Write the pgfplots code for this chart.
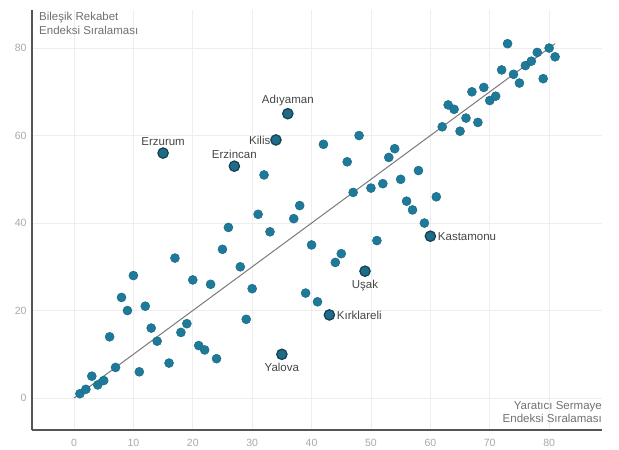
\documentclass[border=0pt]{standalone}
\usepackage{pgfplots}
\usepackage{pgfplotstable}
\pgfplotsset{compat=1.18}
\usepackage{fontspec}
\setmainfont{Liberation Sans}
\definecolor{dot}{HTML}{1E7A98}
\definecolor{dotedge}{HTML}{1A6C88}
\definecolor{dotdark}{HTML}{1D6C88}
\definecolor{dotdarkedge}{HTML}{173F50}
\definecolor{axisgray}{HTML}{555555}
\definecolor{gridgray}{HTML}{EEEEEE}
\definecolor{tickgray}{HTML}{A8A8A8}
\definecolor{titlegray}{HTML}{707070}
\definecolor{labelgray}{HTML}{454545}
\definecolor{linegray}{HTML}{7A7A7A}

\pgfplotstableread{
x y
1 1
2 2
3 5
4 3
5 4
6 14
7 7
8 23
9 20
10 28
11 6
12 21
13 16
14 13
16 8
17 32
18 15
19 17
20 27
21 12
22 11
23 26
24 9
25 34
26 39
28 30
29 18
30 25
31 42
32 51
33 38
37 41
38 44
39 24
40 35
41 22
42 58
44 31
45 33
46 54
47 47
48 60
50 48
51 36
52 49
53 55
54 57
55 50
56 45
57 43
58 52
59 40
61 46
62 62
63 67
64 66
65 61
66 64
67 70
68 63
69 71
70 68
71 69
72 75
73 81
74 74
75 72
76 76
77 77
78 79
79 73
80 80
81 78
}\others

\begin{document}
\begin{tikzpicture}
\begin{axis}[
  scale only axis, width=570pt, height=420pt,
  xmin=-7.07, xmax=88.9, ymin=-7.3, ymax=88.7,
  axis x line=bottom, axis y line=left,
  axis line style={-, draw=axisgray, line width=1.5pt},
  xtick={0,10,...,80}, ytick={0,20,...,80},
  major tick length=0pt,
  grid=major, grid style={draw=gridgray, line width=0.8pt},
  tick label style={font=\fontsize{10.5}{12}\selectfont, text=tickgray},
  /pgf/number format/assume math mode=true,
  xticklabel style={yshift=-6pt},
  yticklabel style={xshift=-2pt},
  clip=false,
  labeled/.style={only marks, mark=*, mark size=5.2pt,
    mark options={fill=dotdark, draw=dotdarkedge, line width=1.2pt},
    point meta=explicit symbolic, nodes near coords,
    every node near coord/.append style={inner sep=1pt,
      font=\fontsize{11.5}{13}\selectfont, text=labelgray}},
]
\coordinate (sw) at (rel axis cs:0,0);
\coordinate (ne) at (rel axis cs:1,1);
\addplot[linegray, line width=1pt] coordinates {(0,0) (81,81)};
\addplot[only marks, mark=*, mark size=4.5pt,
  mark options={fill=dot, draw=dotedge, line width=0.5pt}]
  table[x=x, y=y] {\others};
\addplot[labeled, every node near coord/.append style={anchor=south, yshift=6pt}]
  coordinates {(36,65) [Adıyaman] (15,56) [Erzurum] (27,53) [Erzincan]};
\addplot[labeled, every node near coord/.append style={anchor=east, xshift=-4pt}]
  coordinates {(34,59) [Kilis]};
\addplot[labeled, every node near coord/.append style={anchor=west, xshift=6pt}]
  coordinates {(60,37) [Kastamonu] (43,19) [Kırklareli]};
\addplot[labeled, every node near coord/.append style={anchor=north, yshift=-7pt}]
  coordinates {(49,29) [Uşak] (35,10) [Yalova]};
\node[anchor=north west, align=left, inner sep=0pt, font=\fontsize{11.5}{13.5}\selectfont, text=titlegray]
  at (rel axis cs:0,1) [xshift=7pt, yshift=-2pt] {Bileşik Rekabet\\Endeksi Sıralaması};
\node[anchor=south east, align=right, inner sep=0pt, font=\fontsize{11.5}{13.5}\selectfont, text=titlegray]
  at (rel axis cs:1,0) [yshift=7pt] {Yaratıcı Sermaye\\Endeksi Sıralaması};
\end{axis}
\pgfresetboundingbox
\path[use as bounding box] ([shift={(-32pt,-20pt)}]sw) rectangle ([shift={(17pt,10pt)}]ne);
\end{tikzpicture}
\end{document}
